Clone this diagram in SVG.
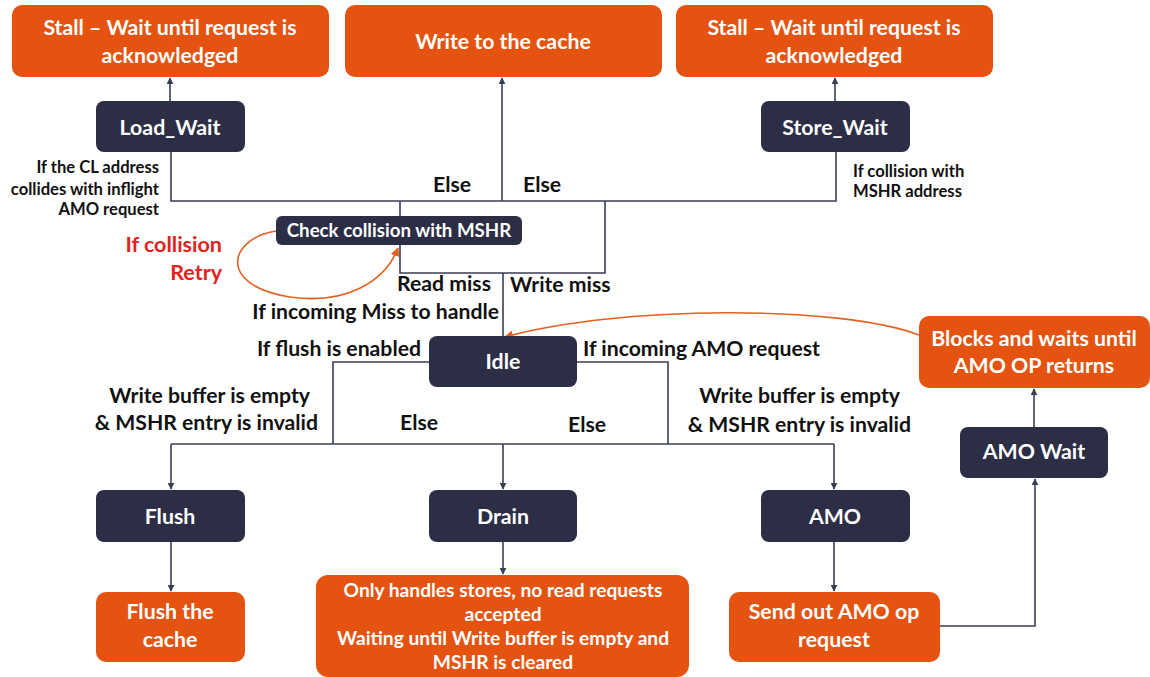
<svg xmlns="http://www.w3.org/2000/svg" width="1150" height="677" viewBox="0 0 1150 677">
  <style>
    .box-o { fill: #E4530F; }
    .box-n { fill: #2B2E45; }
    .wt { fill: #ffffff; font-family: Lato, "Open Sans", sans-serif; font-weight: bold; text-anchor: middle; }
    .big { font-size: 21.3px; }
    .mid { font-size: 18.7px; }
    .note { font-size: 19.2px; }
    .lbl { fill: #111111; font-family: Lato, "Open Sans", sans-serif; font-weight: bold; font-size: 21.2px; }
    .sm { font-size: 16.6px; }
    .red { fill: #E0231C; font-size: 21.5px; }
    .edge { stroke: #3A3E55; stroke-width: 1.6; fill: none; }
    .oedge { stroke: #E4601F; stroke-width: 1.6; fill: none; }
  </style>
  <defs>
    <marker id="ah" viewBox="0 0 10 10" refX="9" refY="5" markerWidth="7" markerHeight="7" orient="auto" markerUnits="userSpaceOnUse">
      <path d="M0 0 L10 5 L0 10 z" fill="#3A3E55"/>
    </marker>
    <marker id="aho" viewBox="0 0 10 10" refX="9" refY="5" markerWidth="9" markerHeight="9" orient="auto" markerUnits="userSpaceOnUse">
      <path d="M0 0 L10 5 L0 10 z" fill="#E4601F"/>
    </marker>
  </defs>
  <rect width="1150" height="677" fill="#ffffff"/>

  <!-- connectors -->
  <g id="connectors">
    <path class="edge" d="M170 101 V78" marker-end="url(#ah)"/>
    <path class="edge" d="M835 101 V78" marker-end="url(#ah)"/>
    <path class="edge" d="M171 152 V201 H836 V152"/>
    <path class="edge" d="M400 201 V216"/>
    <path class="edge" d="M502 201 V78" marker-end="url(#ah)"/>
    <path class="edge" d="M400 245 V273 H605 V201"/>
    <path class="edge" d="M503 273 V336"/>
    <path class="edge" d="M429 362 H333 V444"/>
    <path class="edge" d="M577 362 H668 V444"/>
    <path class="edge" d="M171 444 H834"/>
    <path class="edge" d="M171 444 V489" marker-end="url(#ah)"/>
    <path class="edge" d="M503 444 V489" marker-end="url(#ah)"/>
    <path class="edge" d="M834 444 V489" marker-end="url(#ah)"/>
    <path class="edge" d="M171 542 V591" marker-end="url(#ah)"/>
    <path class="edge" d="M503 542 V574" marker-end="url(#ah)"/>
    <path class="edge" d="M834 542 V591" marker-end="url(#ah)"/>
    <path class="edge" d="M940 626 H1035 V479" marker-end="url(#ah)"/>
    <path class="edge" d="M1034 427 V389" marker-end="url(#ah)"/>
    <path class="oedge" d="M919 335 C 840 305, 620 305, 505 337" marker-end="url(#aho)"/>
    <path class="oedge" d="M276 231 C 230 238, 215 285, 290 297 C 345 305, 385 282, 398 248" marker-end="url(#aho)"/>
  </g>

  <!-- connector labels -->
  <g id="labels">
    <text class="lbl sm" text-anchor="end"><tspan x="159" y="173">If the CL address</tspan><tspan x="159" y="195">collides with inflight</tspan><tspan x="159" y="215">AMO request</tspan></text>
    <text class="lbl sm"><tspan x="853" y="177">If collision with</tspan><tspan x="853" y="197">MSHR address</tspan></text>
    <text class="lbl" x="433" y="192">Else</text>
    <text class="lbl" x="523" y="192">Else</text>
    <text class="lbl red" text-anchor="end"><tspan x="222" y="252">If collision</tspan><tspan x="222" y="280">Retry</tspan></text>
    <text class="lbl" x="491" y="291" text-anchor="end">Read miss</text>
    <text class="lbl" x="510" y="292">Write miss</text>
    <text class="lbl" x="499" y="319" text-anchor="end">If incoming Miss to handle</text>
    <text class="lbl" x="421" y="356" text-anchor="end">If flush is enabled</text>
    <text class="lbl" x="583" y="356">If incoming AMO request</text>
    <text class="lbl" text-anchor="end"><tspan x="310" y="403">Write buffer is empty</tspan><tspan x="318" y="430">&amp; MSHR entry is invalid</tspan></text>
    <text class="lbl" x="400" y="430">Else</text>
    <text class="lbl" x="568" y="432">Else</text>
    <text class="lbl" text-anchor="end"><tspan x="900" y="403">Write buffer is empty</tspan><tspan x="911" y="432">&amp; MSHR entry is invalid</tspan></text>
  </g>

  <!-- nodes -->
  <g id="stall-load">
    <rect class="box-o" x="12" y="5" width="317" height="72" rx="10"/>
    <text class="wt big"><tspan x="170" y="35">Stall – Wait until request is</tspan><tspan x="170" y="63">acknowledged</tspan></text>
  </g>
  <g id="write-cache">
    <rect class="box-o" x="345" y="5" width="317" height="72" rx="10"/>
    <text class="wt big" x="503" y="49">Write to the cache</text>
  </g>
  <g id="stall-store">
    <rect class="box-o" x="676" y="5" width="317" height="72" rx="10"/>
    <text class="wt big"><tspan x="834" y="35">Stall – Wait until request is</tspan><tspan x="834" y="63">acknowledged</tspan></text>
  </g>
  <g id="load-wait">
    <rect class="box-n" x="96" y="101" width="149" height="51" rx="8"/>
    <text class="wt big" x="170" y="135">Load_Wait</text>
  </g>
  <g id="store-wait">
    <rect class="box-n" x="761" y="101" width="149" height="51" rx="8"/>
    <text class="wt big" x="835" y="135">Store_Wait</text>
  </g>
  <g id="check-collision">
    <rect class="box-n" x="276" y="216" width="246" height="29" rx="6"/>
    <text class="wt mid" x="399" y="237">Check collision with MSHR</text>
  </g>
  <g id="idle">
    <rect class="box-n" x="429" y="336" width="148" height="51" rx="8"/>
    <text class="wt big" x="503" y="369">Idle</text>
  </g>
  <g id="flush">
    <rect class="box-n" x="96" y="490" width="149" height="52" rx="8"/>
    <text class="wt big" x="170" y="524">Flush</text>
  </g>
  <g id="drain">
    <rect class="box-n" x="429" y="490" width="148" height="52" rx="8"/>
    <text class="wt big" x="503" y="524">Drain</text>
  </g>
  <g id="amo">
    <rect class="box-n" x="761" y="490" width="149" height="52" rx="8"/>
    <text class="wt big" x="835" y="524">AMO</text>
  </g>
  <g id="amo-wait">
    <rect class="box-n" x="960" y="427" width="148" height="51" rx="8"/>
    <text class="wt big" x="1034" y="459">AMO Wait</text>
  </g>
  <g id="flush-cache">
    <rect class="box-o" x="96" y="592" width="149" height="70" rx="10"/>
    <text class="wt big"><tspan x="170" y="619">Flush the</tspan><tspan x="170" y="647">cache</tspan></text>
  </g>
  <g id="drain-note">
    <rect class="box-o" x="316" y="575" width="373" height="102" rx="12"/>
    <text class="wt note"><tspan x="503" y="597">Only handles stores, no read requests</tspan><tspan x="503" y="621">accepted</tspan><tspan x="503" y="645">Waiting until Write buffer is empty and</tspan><tspan x="503" y="669">MSHR is cleared</tspan></text>
  </g>
  <g id="send-amo">
    <rect class="box-o" x="729" y="592" width="211" height="70" rx="10"/>
    <text class="wt big"><tspan x="834" y="619">Send out AMO op</tspan><tspan x="834" y="647">request</tspan></text>
  </g>
  <g id="blocks-wait">
    <rect class="box-o" x="919" y="316" width="231" height="72" rx="10"/>
    <text class="wt big"><tspan x="1034" y="346">Blocks and waits until</tspan><tspan x="1034" y="373">AMO OP returns</tspan></text>
  </g>
</svg>
